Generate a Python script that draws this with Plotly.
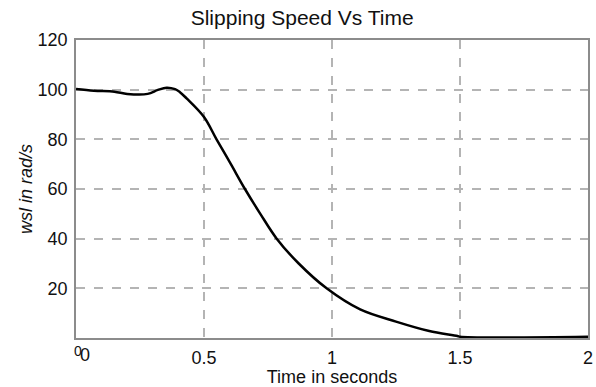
import plotly.graph_objects as go

# Data
time_s = [0, 0.07, 0.15, 0.2, 0.28, 0.32, 0.354, 0.387, 0.406, 0.432, 0.5, 0.549, 0.605,
          0.66, 0.72, 0.784, 0.87, 0.979, 1.11, 1.25, 1.38, 1.49, 1.5, 2.0]
wsl = [100.3, 99.6, 99.2, 98.3, 98.3, 99.9, 100.8, 100.2, 99.0, 96.5, 89.0, 80.0, 70.0,
       60.0, 50.0, 40.0, 30.0, 20.0, 11.5, 6.6, 2.8, 0.8, 0.5, 0.5]

x_ticks = [0, 0.5, 1, 1.5, 2]
x_ticktext = ["", "0.5", "1", "1.5", "2"]
y_ticks = [20, 40, 60, 80, 100, 120]

FONT = "Liberation Sans, Arial, sans-serif"

fig = go.Figure()
fig.add_trace(go.Scatter(x=time_s, y=wsl, mode="lines",
                         line=dict(color="black", width=2.5, shape="spline", smoothing=1.0),
                         showlegend=False))

grid = dict(showgrid=True, gridcolor="#b4b4b4", gridwidth=1.5, griddash="dash")

fig.update_layout(
    width=596, height=387,
    margin=dict(l=76, r=8, t=40, b=49),
    paper_bgcolor="white", plot_bgcolor="white",
    font=dict(family=FONT, color="#111", size=18),
    title=dict(text="Slipping Speed Vs Time", x=0.507, xanchor="center",
               y=1 - 18 / 387, yanchor="middle", font=dict(size=21, family=FONT)),
    xaxis=dict(range=[0, 2], tickvals=x_ticks, ticktext=x_ticktext, ticks="",
               showline=True, mirror=True, linecolor="#8c8c8c", linewidth=1.5,
               zeroline=False, ticklabelstandoff=3, automargin=False,
               title=dict(text="Time in seconds", standoff=7, font=dict(size=18)),
               **grid),
    yaxis=dict(range=[0, 120], tickvals=y_ticks, ticks="",
               showline=True, mirror=True, linecolor="#8c8c8c", linewidth=1.5,
               zeroline=False, ticklabelstandoff=3, automargin=False,
               title=dict(text="<i>wsl in rad/s</i>", standoff=0, font=dict(size=18)),
               **grid),
)

# overlapping zero labels at the origin
fig.add_annotation(x=0, y=0, xref="x", yref="y", text="0", showarrow=False,
                   xshift=2, yshift=-13, font=dict(size=14, family=FONT, color="#111"))
fig.add_annotation(x=0, y=0, xref="x", yref="y", text="0", showarrow=False,
                   xshift=9, yshift=-17, font=dict(size=18, family=FONT, color="#111"))

fig.write_html("out.html")
